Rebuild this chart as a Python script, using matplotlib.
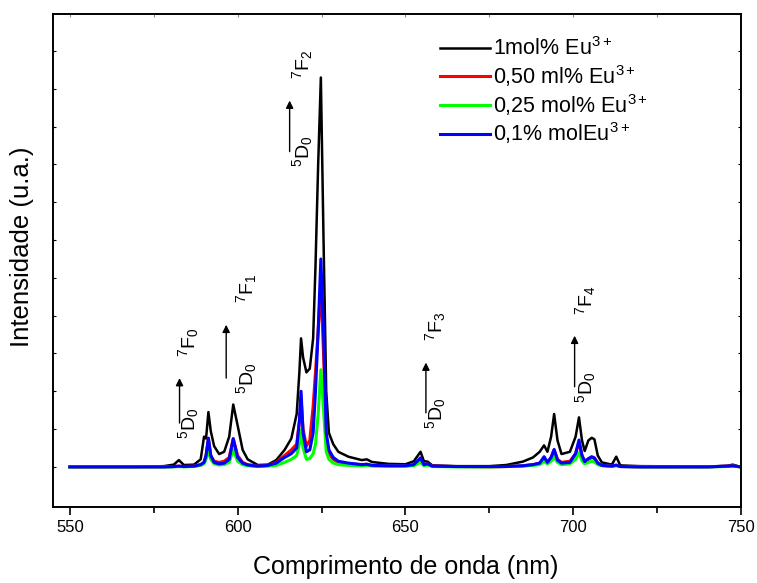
import numpy as np
import matplotlib
matplotlib.use("Agg")
import matplotlib.pyplot as plt
from matplotlib.ticker import MultipleLocator

plt.rcParams['font.family'] = ['Liberation Sans', 'DejaVu Sans']
plt.rcParams['mathtext.fontset'] = 'custom'
plt.rcParams['mathtext.rm'] = 'Liberation Sans'
plt.rcParams['mathtext.it'] = 'Liberation Sans:italic'
plt.rcParams['mathtext.bf'] = 'Liberation Sans:bold'

# wavelength grid (nm)
wl = [550, 570, 578, 581, 582.5, 584, 587, 589, 590, 590.6, 591.3, 592, 593, 594.5,
      596, 597.5, 598.7, 600, 601.5, 603, 606, 609, 611.5, 614, 616, 617.6, 618.4,
      618.9, 619.5, 620.5, 621.5, 622.5, 623.2, 624.0, 624.8, 625.6, 626.4, 627.2,
      628.5, 630, 633, 637, 638.5, 640, 645, 650, 652.5, 654.5, 655.5, 656.6, 658,
      665, 675, 680, 685, 688, 690, 691.3, 692.3, 693.4, 694.3, 695.3, 696.5, 699,
      700.7, 701.7, 702.6, 703.4, 704.5, 705.5, 706.3, 707.3, 708.5, 711.5, 712.8,
      714, 720, 740, 746, 747.5, 749, 750]

eu_1 = [0, 0, 0.002, 0.006, 0.018, 0.005, 0.006, 0.02, 0.08, 0.075, 0.145, 0.095, 0.055, 0.034,
        0.04, 0.08, 0.165, 0.11, 0.045, 0.02, 0.005, 0.006, 0.018, 0.045, 0.075, 0.14, 0.25,
        0.34, 0.29, 0.25, 0.26, 0.34, 0.53, 0.8, 1.03, 0.6, 0.2, 0.09,
        0.06, 0.04, 0.027, 0.018, 0.02, 0.013, 0.008, 0.007, 0.015, 0.04, 0.015, 0.014, 0.004,
        0.002, 0.002, 0.005, 0.014, 0.025, 0.04, 0.057, 0.04, 0.08, 0.14, 0.07, 0.034, 0.04,
        0.08, 0.131, 0.07, 0.042, 0.07, 0.077, 0.073, 0.03, 0.012, 0.006, 0.027,
        0.004, 0.002, 0.001, 0.003, 0.006, 0.002, 0]

eu_050 = [0, 0, 0, 0.001, 0.002, 0.001, 0.002, 0.006, 0.012, 0.03, 0.075, 0.03, 0.015, 0.012,
          0.015, 0.025, 0.075, 0.03, 0.012, 0.006, 0.002, 0.004, 0.012, 0.03, 0.045, 0.06, 0.12,
          0.18, 0.1, 0.055, 0.07, 0.16, 0.25, 0.36, 0.48, 0.3, 0.08, 0.035,
          0.02, 0.012, 0.008, 0.006, 0.007, 0.004, 0.003, 0.003, 0.005, 0.018, 0.005, 0.008, 0.002,
          0.001, 0, 0.001, 0.003, 0.006, 0.01, 0.022, 0.012, 0.025, 0.045, 0.02, 0.012, 0.015,
          0.035, 0.065, 0.03, 0.016, 0.02, 0.025, 0.022, 0.01, 0.004, 0.002, 0.004,
          0.001, 0, 0, 0.002, 0.003, 0.001, 0]

eu_025 = [0, 0, 0, 0, 0.001, 0, 0.001, 0.004, 0.008, 0.02, 0.045, 0.02, 0.008, 0.005,
          0.006, 0.012, 0.045, 0.015, 0.006, 0.003, 0.001, 0.002, 0.004, 0.012, 0.02, 0.03, 0.06,
          0.098, 0.05, 0.02, 0.022, 0.035, 0.06, 0.14, 0.257, 0.15, 0.04, 0.02,
          0.01, 0.006, 0.004, 0.003, 0.004, 0.002, 0.002, 0.002, 0.003, 0.012, 0.003, 0.005, 0.001,
          0, 0, 0.001, 0.002, 0.004, 0.006, 0.014, 0.008, 0.015, 0.025, 0.012, 0.006, 0.008,
          0.02, 0.038, 0.016, 0.008, 0.012, 0.015, 0.013, 0.006, 0.003, 0.001, 0.003,
          0.001, 0, 0, 0.001, 0.002, 0.001, 0]

eu_01 = [0, 0, 0, 0.001, 0.002, 0.001, 0.002, 0.006, 0.012, 0.03, 0.076, 0.03, 0.012, 0.008,
         0.01, 0.02, 0.074, 0.025, 0.01, 0.005, 0.002, 0.004, 0.01, 0.025, 0.035, 0.05, 0.12,
         0.2, 0.09, 0.04, 0.045, 0.09, 0.2, 0.36, 0.55, 0.36, 0.09, 0.045,
         0.025, 0.015, 0.01, 0.006, 0.007, 0.004, 0.003, 0.003, 0.006, 0.024, 0.006, 0.008, 0.002,
         0.001, 0.001, 0.001, 0.003, 0.006, 0.01, 0.027, 0.012, 0.025, 0.046, 0.018, 0.01, 0.012,
         0.035, 0.071, 0.03, 0.014, 0.022, 0.027, 0.024, 0.01, 0.004, 0.002, 0.005,
         0.001, 0, 0, 0.002, 0.003, 0.001, 0]

labels = ['1mol% Eu$^{3+}$', '0,50 ml% Eu$^{3+}$', '0,25 mol% Eu$^{3+}$', '0,1% molEu$^{3+}$']
colors = ['black', '#ff0000', '#00ff00', '#0000ff']
widths = [1.8, 2.2, 2.2, 2.2]

# 5D0 -> 7FJ transitions: arrow x, arrow bottom/top, text x, J
trans_x = [582.7, 596.6, 615.5, 656.1, 700.4]
trans_y0 = [0.116, 0.235, 0.834, 0.143, 0.212]
trans_y1 = [0.235, 0.376, 0.969, 0.276, 0.347]
text_x = [585.3, 602.6, 619.3, 658.9, 703.6]
trans_j = [0, 1, 2, 3, 4]

fig = plt.figure(figsize=(7.57, 5.83), dpi=100)
ax = fig.add_axes([0.070, 0.1304, 0.909, 0.8456])

for y, c, lw, lab in zip([eu_1, eu_050, eu_025, eu_01], colors, widths, labels):
    ax.plot(wl, y, color=c, lw=lw, label=lab)

for x, y0, y1, tx, j in zip(trans_x, trans_y0, trans_y1, text_x, trans_j):
    ax.annotate('', xy=(x, y1), xytext=(x, y0),
                arrowprops=dict(arrowstyle='-|>', color='black', lw=1.0,
                                mutation_scale=11, shrinkA=0, shrinkB=0))
    ax.text(tx, y0, '$^5$D$_0$', rotation=90, fontsize=14,
            ha='center', va='center')
    ax.text(tx, y1 + 0.095, '$^7$F$_%d$' % j, rotation=90, fontsize=14,
            ha='center', va='center')

ax.set_xlim(545, 750)
ax.set_ylim(-0.106, 1.198)
ax.xaxis.set_major_locator(MultipleLocator(50))
ax.xaxis.set_minor_locator(MultipleLocator(25))
ax.set_yticks(np.arange(0, 1.15, 0.1))
ax.set_yticklabels([])
ax.tick_params(axis='x', which='major', direction='out', length=6, width=1.2,
               labelsize=12)
ax.tick_params(axis='x', which='minor', direction='out', length=4, width=1.2)
ax.tick_params(axis='y', direction='in', length=2.5, width=0.8, right=True)
for s in ax.spines.values():
    s.set_linewidth(1.4)

# faint inward ticks along the top edge
top = ax.secondary_xaxis('top')
top.xaxis.set_major_locator(MultipleLocator(25))
top.tick_params(direction='in', length=2.5, width=0.8, colors='#888888', labeltop=False)
top.spines['top'].set_visible(False)

ax.set_xlabel('Comprimento de onda (nm)', fontsize=18, va='center')
ax.xaxis.set_label_coords(0.513, -0.122)
ax.set_ylabel('Intensidade (u.a.)', fontsize=18.5, va='center')
ax.yaxis.set_label_coords(-0.045, 0.527)

ax.legend(loc='upper left', bbox_to_anchor=(0.544, 0.979), frameon=False, fontsize=15.5,
          handlelength=2.3, handletextpad=0.15, labelspacing=0.13, borderaxespad=0.2)

fig.savefig('out.png', dpi=100)
